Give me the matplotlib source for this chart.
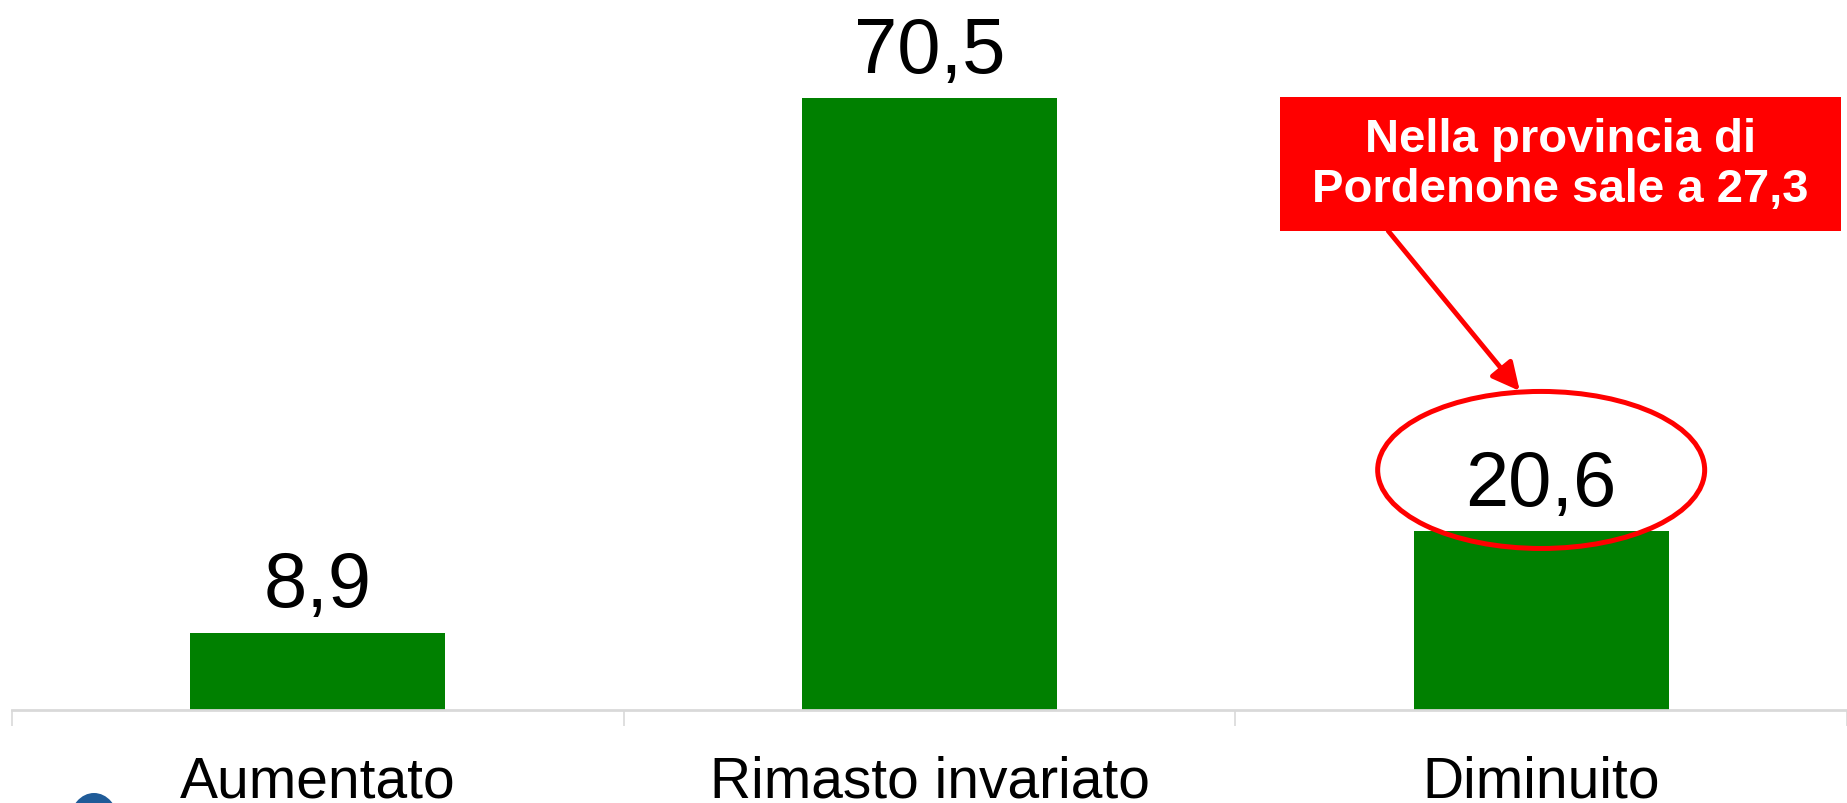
import matplotlib.pyplot as plt
from matplotlib.patches import Rectangle, Ellipse
import numpy as np

plt.rcParams['font.family'] = ['Liberation Sans', 'DejaVu Sans']

# Dati
categorie = ['Aumentato', 'Rimasto invariato', 'Diminuito']
valori = [8.9, 70.5, 20.6]
etichette = ['8,9', '70,5', '20,6']
nota = 'Nella provincia di\nPordenone sale a 27,3'

verde = '#008000'
rosso = '#ff0000'
grigio = '#d9d9d9'

fig = plt.figure(figsize=(18.47, 8.04), dpi=100)
ax = fig.add_axes([12 / 1847, 93 / 804, 1 - 12 / 1847, 711 / 804])

x = np.arange(len(categorie))
ax.bar(x, valori, width=0.417, color=verde)

# Etichette dei valori
for xi, v, lab in zip(x, valori, etichette):
    ax.annotate(lab, (xi, v), xytext=(0, 19), textcoords='offset points',
                ha='center', va='baseline', fontsize=56, color='black')

ax.set_xlim(-0.5, 2.5)
ax.set_ylim(0, 81.9)

# Assi
for s in ['top', 'right', 'left']:
    ax.spines[s].set_visible(False)
ax.spines['bottom'].set_color(grigio)
ax.spines['bottom'].set_linewidth(2)
ax.set_yticks([])
ax.set_xticks(x)
ax.set_xticklabels(categorie, fontsize=41)
ax.tick_params(axis='x', which='major', length=0, pad=32)
ax.set_xticks([-0.5, 0.5, 1.5, 2.5], minor=True)
ax.tick_params(axis='x', which='minor', length=11.5, width=1.2, color=grigio)

# Riquadro rosso con nota
ax.add_patch(Rectangle((1.573, 55.18), 2.490 - 1.573, 70.61 - 55.18,
                       facecolor=rosso, edgecolor='none', clip_on=False, zorder=3))
ax.text(2.032, 62.9, nota, ha='center', va='center', fontsize=34,
        fontweight='bold', color='white', linespacing=1.18, zorder=4)

# Freccia ed ellisse
ax.annotate('', xy=(1.965, 36.75), xytext=(1.750, 55.18),
            arrowprops=dict(arrowstyle='-|>', color=rosso, lw=3.5,
                            mutation_scale=42, shrinkA=0, shrinkB=0))
ax.add_patch(Ellipse((2.0, 27.65), 0.5346, 18.09, facecolor='none',
                     edgecolor=rosso, lw=3.6, clip_on=False, zorder=4))

# Logo tagliato in basso a sinistra
fig.patches.append(Ellipse((94 / 1847, -18 / 804), 48 / 1847, 56 / 804,
                           transform=fig.transFigure, facecolor='#1f5b98',
                           edgecolor='none'))

fig.savefig('out.png', dpi=100)
